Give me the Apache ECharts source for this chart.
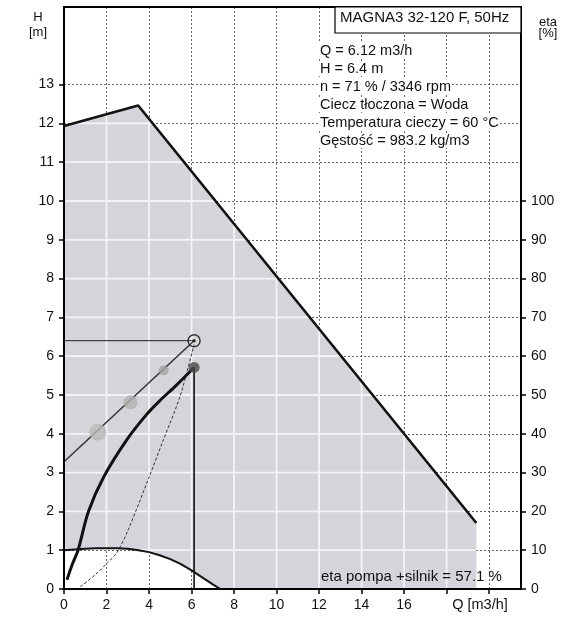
<!DOCTYPE html>
<html><head><meta charset="utf-8">
<script src="https://cdn.jsdelivr.net/npm/echarts@6/dist/echarts.min.js"></script>
<style>html,body{margin:0;padding:0;background:#fff}#c{width:580px;height:617px}</style>
</head><body><div id="c"></div>
<script>
// ---- tick labels ----
const qTickLabels = [0, 2, 4, 6, 8, 10, 12, 14, 16];
const qTickMarks = [0, 2, 4, 6, 8, 10, 12, 14, 16, 18, 20];
const hTicks = [0, 1, 2, 3, 4, 5, 6, 7, 8, 9, 10, 11, 12, 13];
const etaTicks = [0, 10, 20, 30, 40, 50, 60, 70, 80, 90, 100];

// ---- max curve (upper limit of operating range) ----
const maxQ = [0, 3.49, 19.4];
const maxH = [11.93, 12.46, 1.7];

// ---- min curve (lower limit) ----
const minQ = [0, 0.5, 1, 1.5, 2, 2.5, 3, 3.5, 4, 4.5, 5, 5.5, 6, 6.5, 7, 7.35];
const minH = [1.0, 1.02, 1.04, 1.05, 1.05, 1.05, 1.04, 1.0, 0.95, 0.87, 0.77, 0.64, 0.48, 0.3, 0.12, 0];

// ---- efficiency curve eta pompa+silnik [%] ----
const etaQ = [0.14, 0.4, 0.66, 1.15, 1.88, 2.96, 3.89, 4.5, 5.28, 6.12];
const etaVal = [2.4, 6.5, 10, 20, 29, 38.5, 45, 48.5, 52.5, 57.1];

// ---- system curve (dashed) ----
const sysQ = [0.77, 1.5, 2.05, 2.48, 3.0, 3.98, 4.68, 5.45, 6.12];
const sysH = [0.06, 0.38, 0.68, 0.93, 1.5, 2.85, 3.85, 4.95, 6.3];

// ---- control curve (proportional pressure) ----
const ctrlQ = [0, 6.12];
const ctrlH = [3.28, 6.4];
const ctrlDotQ = [1.59, 3.13, 4.69];
const ctrlDotH = [4.04, 4.81, 5.63];

// ---- operating point ----
const opQ = 6.12;
const opH = 6.4;
const opEta = 57.1;

const infoLines = [
  'Q = 6.12 m3/h',
  'H = 6.4 m',
  'n = 71 % / 3346 rpm',
  'Ciecz tłoczona = Woda',
  'Temperatura cieczy = 60 °C',
  'Gęstość = 983.2 kg/m3'
];
const titleText = 'MAGNA3 32-120 F, 50Hz';
const etaText = 'eta pompa +silnik = 57.1 %';

const FONT = 'Liberation Sans, Arial, sans-serif';
const G = {left: 64, right: 59, top: 7, bottom: 28};
const W = 580, H = 617;

const polyQ = maxQ.concat([maxQ[maxQ.length - 1]]).concat(minQ.slice().reverse());
const polyH = maxH.concat([0]).concat(minH.slice().reverse());

let areaFill = '#d4d4da';

const chart = echarts.init(document.getElementById('c'), null, {renderer: 'canvas'});

function pairs(xs, ys) { return xs.map((x, i) => [x, ys[i]]); }

function buildOption() {
  const txt = [];
  infoLines.forEach((t, i) => {
    txt.push({type: 'text', left: 319, top: 43 + i * 18, z: 50,
      style: {text: t, font: '14.5px ' + FONT, fill: '#111', backgroundColor: '#fff', padding: [0, 1]}});
  });
  return {
    animation: false,
    backgroundColor: '#fff',
    grid: {left: G.left, right: G.right, top: G.top, bottom: G.bottom, show: false},
    xAxis: {
      type: 'value', min: 0, max: 21.5, interval: 2,
      axisLine: {show: true, lineStyle: {color: '#000', width: 2}},
      axisTick: {show: true, length: 5, inside: false, customValues: qTickMarks, lineStyle: {color: '#000', width: 1.5}},
      axisLabel: {customValues: qTickLabels, margin: 9, color: '#111', fontSize: 14, fontFamily: FONT},
      splitLine: {show: true, lineStyle: {color: '#666', width: 1, type: [2, 2]}}
    },
    yAxis: [
      {
        type: 'value', min: 0, max: 15, interval: 1, position: 'left',
        axisLine: {show: true, lineStyle: {color: '#000', width: 2}},
        axisTick: {show: true, length: 5, customValues: hTicks, lineStyle: {color: '#000', width: 1.5}},
        axisLabel: {customValues: hTicks, margin: 10, color: '#111', fontSize: 14, fontFamily: FONT},
        splitLine: {show: true, lineStyle: {color: '#666', width: 1, type: [2, 2]}}
      },
      {
        type: 'value', min: 0, max: 150, interval: 10, position: 'right',
        axisLine: {show: true, lineStyle: {color: '#000', width: 2}},
        axisTick: {show: true, length: 5, customValues: etaTicks, lineStyle: {color: '#000', width: 1.5}},
        axisLabel: {customValues: etaTicks, margin: 10, color: '#111', fontSize: 14, fontFamily: FONT},
        splitLine: {show: false}
      }
    ],
    graphic: [
      {type: 'rect', z: 40, silent: true,
        shape: {x: G.left, y: G.top, width: W - G.left - G.right, height: H - G.top - G.bottom},
        style: {fill: 'none', stroke: '#000', lineWidth: 2}},
      {type: 'rect', z: 45, silent: true,
        shape: {x: 335, y: G.top, width: W - G.right - 335, height: 26},
        style: {fill: '#fff', stroke: '#000', lineWidth: 1.2}},
      {type: 'text', left: 340, top: 10, z: 50,
        style: {text: titleText, font: '15px ' + FONT, fill: '#111'}},
      {type: 'text', x: 38, y: 17, z: 50,
        style: {text: 'H', font: '13px ' + FONT, fill: '#111', textAlign: 'center', textVerticalAlign: 'middle'}},
      {type: 'text', x: 38, y: 32, z: 50,
        style: {text: '[m]', font: '13px ' + FONT, fill: '#111', textAlign: 'center', textVerticalAlign: 'middle'}},
      {type: 'text', x: 548, y: 22, z: 50,
        style: {text: 'eta', font: '13px ' + FONT, fill: '#111', textAlign: 'center', textVerticalAlign: 'middle'}},
      {type: 'text', x: 548, y: 33, z: 50,
        style: {text: '[%]', font: '13px ' + FONT, fill: '#111', textAlign: 'center', textVerticalAlign: 'middle'}},
      {type: 'text', x: 480, y: 605, z: 50,
        style: {text: 'Q [m3/h]', font: '14.5px ' + FONT, fill: '#111', textAlign: 'center', textVerticalAlign: 'middle'}},
      {type: 'text', x: 321, y: 577, z: 50,
        style: {text: etaText, font: '15px ' + FONT, fill: '#111', textAlign: 'left', textVerticalAlign: 'middle'}}
    ].concat(txt),
    series: [
      {
        type: 'custom', id: 'area', z: 1, silent: true, clip: true,
        data: [[0, 0]],
        renderItem: function (params, api) {
          const pts = polyQ.map((q, i) => api.coord([q, polyH[i]]));
          return {type: 'polygon', shape: {points: pts}, style: {fill: areaFill, stroke: null}};
        }
      },
      {
        type: 'line', name: 'max', data: pairs(maxQ, maxH), symbol: 'none', z: 6,
        lineStyle: {color: '#111', width: 2.6}
      },
      {
        type: 'line', name: 'min', data: pairs(minQ, minH), symbol: 'none', z: 6,
        lineStyle: {color: '#111', width: 2}
      },
      {
        type: 'line', name: 'system', data: pairs(sysQ, sysH), symbol: 'none', smooth: 0.3, z: 5,
        lineStyle: {color: '#333', width: 1, type: [3, 2]}
      },
      {
        type: 'line', name: 'opH', data: [[0, opH], [opQ, opH]], symbol: 'none', z: 5,
        lineStyle: {color: '#222', width: 1}
      },
      {
        type: 'line', name: 'opV', yAxisIndex: 1, data: [[opQ, opEta], [opQ, 0]], symbol: 'none', z: 5,
        lineStyle: {color: '#111', width: 1.6}
      },
      {
        type: 'line', name: 'control', data: pairs(ctrlQ, ctrlH), symbol: 'none', z: 6,
        lineStyle: {color: '#333', width: 1.5}
      },
      {
        type: 'scatter', name: 'ctrlDots', z: 7,
        data: ctrlDotQ.map((q, i) => ({value: [q, ctrlDotH[i]],
          symbolSize: [17, 14, 10][i],
          itemStyle: {color: ['#b8b8b8', '#b0b0b0', '#a2a2a2'][i]}})),
        symbol: 'circle'
      },
      {
        type: 'line', name: 'eta', yAxisIndex: 1, data: pairs(etaQ, etaVal), symbol: 'none', smooth: 0.3, z: 8,
        lineStyle: {color: '#111', width: 3}
      },
      {
        type: 'scatter', name: 'etaDot', yAxisIndex: 1, z: 9,
        data: [[opQ, opEta]], symbol: 'circle', symbolSize: 11,
        itemStyle: {color: '#4a4a4a'}
      },
      {
        type: 'scatter', name: 'opRing', z: 10,
        data: [[opQ, opH]], symbol: 'circle', symbolSize: 12,
        itemStyle: {color: 'rgba(255,255,255,0.15)', borderColor: '#111', borderWidth: 1.5}
      },
      {
        type: 'scatter', name: 'opCenter', z: 11,
        data: [[opQ, opH]], symbol: 'circle', symbolSize: 3.5,
        itemStyle: {color: '#111'}
      }
    ]
  };
}

chart.setOption(buildOption());

// pattern for the shaded range: light grid lines on grey, aligned to the axes
const cv = document.createElement('canvas');
cv.width = W; cv.height = H;
const ctx = cv.getContext('2d');
ctx.fillStyle = '#d4d4da';
ctx.fillRect(0, 0, W, H);
ctx.strokeStyle = '#f4f4f6';
ctx.lineWidth = 1.8;
for (let q = 0; q <= 20; q += 2) {
  const x = chart.convertToPixel({xAxisIndex: 0}, q);
  ctx.beginPath(); ctx.moveTo(x, 0); ctx.lineTo(x, H); ctx.stroke();
}
for (let h = 0; h <= 15; h += 1) {
  const y = chart.convertToPixel({yAxisIndex: 0}, h);
  ctx.beginPath(); ctx.moveTo(0, y); ctx.lineTo(W, y); ctx.stroke();
}
areaFill = {image: cv, repeat: 'no-repeat'};
chart.setOption(buildOption(), true);
</script>
</body></html>
